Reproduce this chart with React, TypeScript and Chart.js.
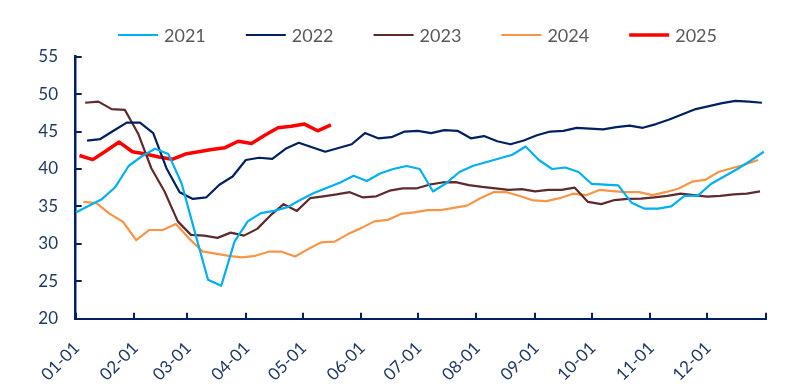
import React, { useEffect, useRef } from 'react';
import { Chart, registerables } from 'chart.js';

Chart.register(...registerables);

// x axis: day of year, ticks at month starts
const monthStartDays = [0, 31, 59, 90, 120, 151, 181, 212, 243, 273, 304, 334, 365];
const monthLabels = ['01-01', '02-01', '03-01', '04-01', '05-01', '06-01', '07-01', '08-01', '09-01', '10-01', '11-01', '12-01', ''];
const yMin = 20;
const yMax = 55;
const yStep = 5;

const seriesNames = ['2021', '2022', '2023', '2024', '2025'];
// day-of-year of the first weekly reading of each year
const firstDays = [0, 6, 5, 4, 2];
const weekDays = 7;

const values2021 = [34.2, 35.1, 36.0, 37.6, 40.4, 41.7, 42.7, 42.0, 38.1, 31.6, 25.2, 24.4, 30.3, 33.0, 34.1, 34.4, 34.9, 35.9, 36.8, 37.5, 38.2, 39.1, 38.4, 39.4, 40.0, 40.4, 40.0, 37.0, 38.1, 39.6, 40.4, 40.9, 41.4, 41.9, 43.0, 41.2, 40.0, 40.2, 39.6, 38.0, 37.9, 37.8, 35.5, 34.7, 34.7, 35.0, 36.4, 36.4, 38.0, 39.0, 40.0, 41.1, 42.3];
const values2022 = [43.8, 44.0, 45.1, 46.2, 46.2, 44.8, 40.1, 36.9, 36.0, 36.2, 37.9, 39.0, 41.2, 41.5, 41.35, 42.7, 43.5, 42.9, 42.3, 42.8, 43.3, 44.8, 44.1, 44.25, 45.0, 45.1, 44.8, 45.2, 45.1, 44.1, 44.4, 43.7, 43.3, 43.8, 44.5, 45.0, 45.1, 45.5, 45.4, 45.3, 45.6, 45.8, 45.5, 46.0, 46.6, 47.3, 48.0, 48.4, 48.8, 49.1, 49.0, 48.85];
const values2023 = [48.85, 49.0, 48.0, 47.9, 44.75, 40.1, 37.0, 33.0, 31.2, 31.1, 30.8, 31.5, 31.1, 32.0, 33.8, 35.3, 34.4, 36.1, 36.35, 36.6, 36.9, 36.2, 36.35, 37.1, 37.4, 37.4, 37.9, 38.2, 38.25, 37.85, 37.6, 37.4, 37.2, 37.3, 37.0, 37.2, 37.2, 37.5, 35.6, 35.3, 35.85, 36.0, 36.05, 36.2, 36.4, 36.7, 36.5, 36.3, 36.4, 36.6, 36.7, 37.0];
const values2024 = [35.6, 35.45, 34.0, 32.95, 30.5, 31.85, 31.85, 32.65, 30.7, 29.0, 28.7, 28.4, 28.2, 28.4, 28.95, 28.95, 28.3, 29.3, 30.2, 30.3, 31.3, 32.1, 33.0, 33.2, 34.0, 34.2, 34.5, 34.5, 34.8, 35.1, 36.1, 36.9, 36.9, 36.4, 35.8, 35.7, 36.1, 36.7, 36.5, 37.2, 37.05, 36.9, 36.9, 36.5, 36.9, 37.4, 38.3, 38.55, 39.6, 40.1, 40.6, 41.2];
const values2025 = [41.8, 41.25, 42.4, 43.6, 42.3, 42.0, 41.6, 41.3, 42.0, 42.3, 42.6, 42.85, 43.7, 43.4, 44.5, 45.5, 45.7, 46.0, 45.1, 45.9];

const seriesValues = [values2021, values2022, values2023, values2024, values2025];
const seriesColors = ['#00B0F0', '#002060', '#5E2A2A', '#F79646', '#FF0000'];
const seriesWidths = [2.2, 2.2, 2.2, 2.2, 3.5];

const AXIS_COLOR = '#002060';
const TICK_TEXT = '#203864';
const FONT = 'Lato, "Open Sans", sans-serif';

const LEGEND_X0 = 110;
const LEGEND_STEP = 127.8;
const LEGEND_Y = 27;
const LEGEND_LINE = 40;

const CANVAS_W = 781;
const CANVAS_H = 376;

const legendPlugin = {
  id: 'lineLegend',
  afterDraw(chart: any) {
    const ctx = chart.ctx as CanvasRenderingContext2D;
    ctx.save();
    ctx.font = `18px ${FONT}`;
    ctx.textBaseline = 'middle';
    ctx.textAlign = 'left';
    chart.data.datasets.forEach((ds: any, i: number) => {
      const x = LEGEND_X0 + i * LEGEND_STEP;
      ctx.strokeStyle = ds.borderColor;
      ctx.lineWidth = ds.borderWidth;
      ctx.lineCap = 'butt';
      ctx.beginPath();
      ctx.moveTo(x, LEGEND_Y);
      ctx.lineTo(x + LEGEND_LINE, LEGEND_Y);
      ctx.stroke();
      ctx.fillStyle = '#595959';
      ctx.fillText(ds.label, x + LEGEND_LINE + 6, LEGEND_Y + 1);
    });
    ctx.restore();
  },
};

// rotated month labels whose upper end sits at the month tick
const xLabelPlugin = {
  id: 'monthLabels',
  afterDraw(chart: any) {
    const xs = chart.scales.x;
    const ctx = chart.ctx as CanvasRenderingContext2D;
    ctx.save();
    ctx.font = `17px ${FONT}`;
    ctx.fillStyle = TICK_TEXT;
    ctx.textAlign = 'right';
    ctx.textBaseline = 'middle';
    monthStartDays.forEach((d, i) => {
      const label = monthLabels[i];
      if (!label) return;
      const px = xs.getPixelForValue(d);
      ctx.save();
      ctx.translate(px + 1, chart.chartArea.bottom + 26.5);
      ctx.rotate(-Math.PI / 4);
      ctx.fillText(label, 0, 0);
      ctx.restore();
    });
    ctx.restore();
  },
};

export default function App() {
  const canvasRef = useRef<HTMLCanvasElement | null>(null);

  useEffect(() => {
    if (!canvasRef.current) return;
    const datasets = seriesNames.map((name, s) => ({
      label: name,
      data: seriesValues[s].map((v, i) => ({ x: firstDays[s] + i * weekDays, y: v })),
      borderColor: seriesColors[s],
      backgroundColor: seriesColors[s],
      borderWidth: seriesWidths[s],
      pointRadius: 0,
      pointHoverRadius: 0,
      tension: 0,
      borderJoinStyle: 'round' as const,
      fill: false,
    }));

    const chart = new Chart(canvasRef.current, {
      type: 'line',
      data: { datasets },
      plugins: [legendPlugin, xLabelPlugin],
      options: {
        animation: false,
        responsive: false,
        maintainAspectRatio: false,
        layout: { padding: { top: 48.7, left: 7.7, right: 23.3, bottom: 0 } },
        plugins: {
          legend: { display: false },
          tooltip: { enabled: false },
          title: { display: false },
        },
        scales: {
          x: {
            type: 'linear',
            min: 0,
            max: 365,
            afterBuildTicks: (scale: any) => {
              scale.ticks = monthStartDays.map((d) => ({ value: d }));
            },
            afterFit: (scale: any) => {
              scale.height = CANVAS_H - 310.7;
              scale.paddingLeft = 0;
              scale.paddingRight = 0;
            },
            ticks: {
              display: false,
              autoSkip: false,
            },
            grid: {
              drawOnChartArea: false,
              color: AXIS_COLOR,
              tickLength: -6,
              lineWidth: 2,
            },
            border: { color: AXIS_COLOR, width: 2 },
          },
          y: {
            min: yMin,
            max: yMax,
            afterFit: (scale: any) => {
              scale.width = 60;
            },
            ticks: {
              stepSize: yStep,
              padding: 23.7,
              color: TICK_TEXT,
              font: { family: FONT, size: 17 },
            },
            grid: {
              drawOnChartArea: false,
              color: AXIS_COLOR,
              tickLength: -6,
              lineWidth: 2,
            },
            border: { color: AXIS_COLOR, width: 2.5 },
          },
        },
      },
    });
    return () => chart.destroy();
  }, []);

  return (
    <div style={{ width: CANVAS_W, height: CANVAS_H, position: 'relative' }}>
      <canvas ref={canvasRef} width={CANVAS_W} height={CANVAS_H} />
    </div>
  );
}
